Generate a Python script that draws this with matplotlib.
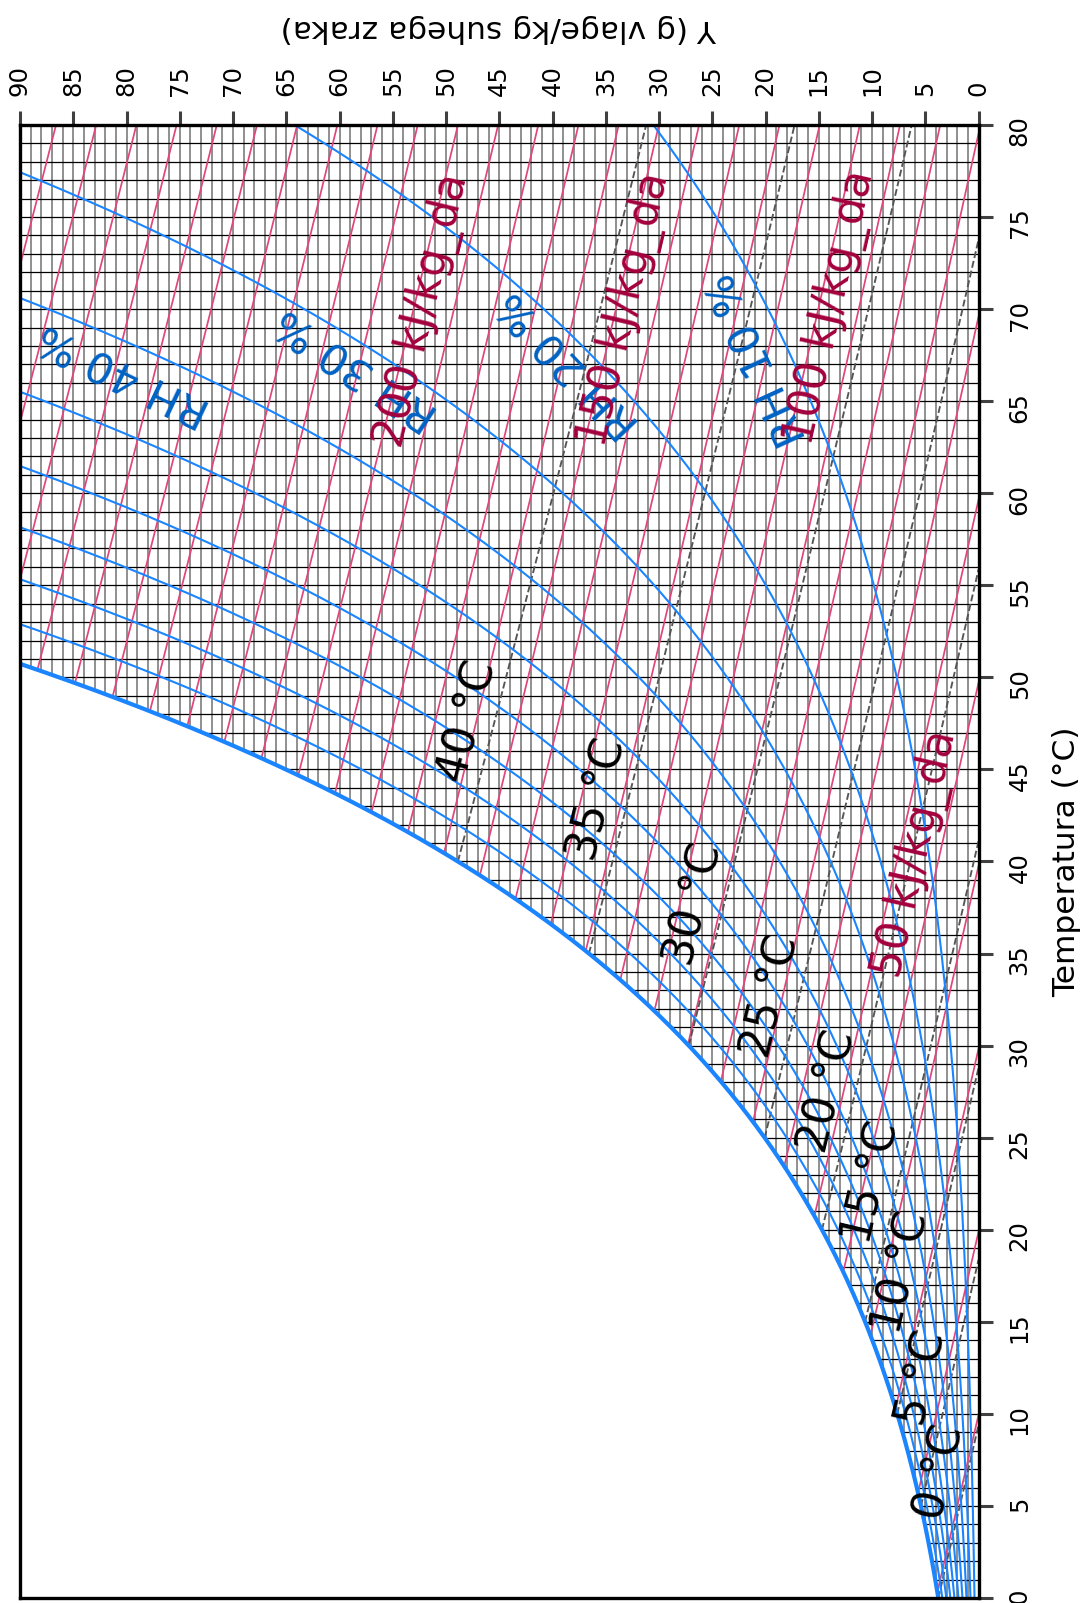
import numpy as np
import matplotlib
matplotlib.use("Agg")
import matplotlib.pyplot as plt
from matplotlib.collections import LineCollection

# ---------------------------------------------------------------- data
P_ATM = 101325.0  # Pa

rh_levels = [10, 20, 30, 40, 50, 60, 70, 80, 90]          # %
enthalpy_levels = list(range(10, 330, 10))                  # kJ/kg_da
wet_bulb_levels = [0, 5, 10, 15, 20, 25, 30, 35, 40]        # °C

temp_grid = list(range(0, 81))        # °C, one line per degree
hum_grid = list(range(0, 91))         # g/kg, one line per gram

temp_ticks = list(range(0, 81, 5))
hum_ticks = list(range(0, 91, 5))

# label anchors (humidity g/kg, temperature °C)
rh_label_levels = [10, 20, 30, 40]
rh_label_w = [20.7, 38.5, 58.4, 80.2]
rh_label_t = [67.3, 67.0, 66.8, 66.5]

h_label_levels = [50, 100, 150, 200]
h_label_w = [5.9, 13.9, 33.2, 52.2]
h_label_t = [40.4, 70.1, 70.0, 69.9]

wb_label_levels = [0, 5, 10, 15, 20, 25, 30, 35, 40]
wb_label_w = [3.6, 5.25, 7.23, 10.04, 14.17, 19.43, 26.65, 35.76, 47.96]
wb_label_t = [6.8, 11.95, 17.65, 22.54, 27.49, 32.65, 37.64, 43.35, 47.58]

# ---------------------------------------------------------------- psychrometrics
def p_sat(t):
    """Saturation pressure over water (Hyland-Wexler), Pa."""
    tk = np.asarray(t, dtype=float) + 273.15
    return np.exp(-5.8002206e3 / tk + 1.3914993 - 4.8640239e-2 * tk
                  + 4.1764768e-5 * tk ** 2 - 1.4452093e-8 * tk ** 3
                  + 6.5459673 * np.log(tk))


def w_from_pw(pw):
    return 621.945 * pw / (P_ATM - pw)  # g/kg


def w_sat(t):
    return w_from_pw(p_sat(t))


# monotonic lookup table (kept well below the boiling point)
_t_tab = np.linspace(-5, 90, 20001)
_w_tab = w_sat(_t_tab)


def t_sat_from_w(w):
    return np.interp(w, _w_tab, _t_tab)


def w_enthalpy(h, t):
    return 1000.0 * (h - 1.006 * t) / (2501.0 + 1.86 * t)


def w_wet_bulb(twb, t):
    ws = w_sat(twb) / 1000.0
    return 1000.0 * ((2501.0 - 2.326 * twb) * ws - 1.006 * (t - twb)) / \
        (2501.0 + 1.86 * t - 4.186 * twb)


def enthalpy_line(h):
    f = w_enthalpy(h, _t_tab) - _w_tab          # decreasing in t
    t0 = np.interp(0.0, -f, _t_tab)
    t1 = h / 1.006
    t = np.linspace(t0, t1, 300)
    return w_enthalpy(h, t), t


def wet_bulb_line(twb):
    ws = w_sat(twb) / 1000.0
    t1 = twb + (2501.0 - 2.326 * twb) * ws / 1.006
    t = np.linspace(twb, t1, 300)
    return np.clip(w_wet_bulb(twb, t), 0, None), t


# ---------------------------------------------------------------- figure
W_PX, H_PX = 1088, 1603
fig = plt.figure(figsize=(W_PX / 100, H_PX / 100), dpi=100)
ax_left, ax_right, ax_top, ax_bottom = 20.0, 978.5, 125.0, 1598.0
ax = fig.add_axes([ax_left / W_PX, (H_PX - ax_bottom) / H_PX,
                   (ax_right - ax_left) / W_PX, (ax_bottom - ax_top) / H_PX])
ax.set_xlim(90, 0)
ax.set_ylim(0, 80)

c_grid_t = "black"
c_grid_w = "#7d7d7d"
c_h = "#e0457b"
c_h_txt = "#a3003d"
c_rh = "#1a85ff"
c_rh_txt = "#0062c4"
c_wb = "#555555"

# grid: dry-bulb lines and humidity lines, limited to the unsaturated region
t_segs = [[(0, t), (min(float(w_sat(t)), 90.0), t)] for t in temp_grid]
w_segs = [[(w, float(t_sat_from_w(w))), (w, 80)] for w in hum_grid]
ax.add_collection(LineCollection(w_segs, colors=c_grid_w, linewidths=1.2, zorder=1))
ax.add_collection(LineCollection(t_segs, colors=c_grid_t, linewidths=0.9, zorder=1))

# constant enthalpy
for h in enthalpy_levels:
    w, t = enthalpy_line(h)
    ax.plot(w, t, color=c_h, lw=1.25, zorder=2)

# constant wet bulb
for twb in wet_bulb_levels:
    w, t = wet_bulb_line(twb)
    ax.plot(w, t, color=c_wb, lw=1.35, ls="--", zorder=3)

# constant relative humidity
t_rh = np.linspace(0, 80, 800)
for rh in rh_levels:
    ax.plot(w_from_pw(rh / 100.0 * p_sat(t_rh)), t_rh, color=c_rh, lw=1.5, zorder=4)

# saturation curve
ax.plot(w_sat(t_rh), t_rh, color=c_rh, lw=3.0, zorder=5)


def screen_angle(w0, t0, w1, t1):
    p0 = ax.transData.transform((w0, t0))
    p1 = ax.transData.transform((w1, t1))
    return np.degrees(np.arctan2(p1[1] - p0[1], p1[0] - p0[0]))


for rh, w, t in zip(rh_label_levels, rh_label_w, rh_label_t):
    dt = 0.5
    wa = float(w_from_pw(rh / 100.0 * p_sat(t - dt)))
    wb = float(w_from_pw(rh / 100.0 * p_sat(t + dt)))
    ang = screen_angle(wa, t - dt, wb, t + dt)
    ax.text(w, t, f"RH {rh} %", color=c_rh_txt, fontsize=31, rotation=ang,
            rotation_mode="anchor", ha="center", va="center", zorder=7)

for h, w, t in zip(h_label_levels, h_label_w, h_label_t):
    ang = screen_angle(w_enthalpy(h, t - 1), t - 1, w_enthalpy(h, t + 1), t + 1)
    ax.text(w, t, f"{h} kJ/kg_da", color=c_h_txt, fontsize=31.5, rotation=ang,
            rotation_mode="anchor", ha="center", va="center", zorder=7)

for twb, w, t in zip(wb_label_levels, wb_label_w, wb_label_t):
    ang = screen_angle(w_wet_bulb(twb, t - 1), t - 1, w_wet_bulb(twb, t + 1), t + 1)
    ax.text(w, t, f"{twb} °C", color="black", fontsize=32, rotation=ang,
            rotation_mode="anchor", ha="center", va="center", zorder=7)

# axes decoration
ax.xaxis.tick_top()
ax.yaxis.tick_right()
ax.set_xticks(hum_ticks)
ax.set_yticks(temp_ticks)
ax.set_xticklabels([str(v) for v in hum_ticks])
ax.set_yticklabels([str(v) for v in temp_ticks])
ax.tick_params(axis="both", direction="out", length=10, width=2.2, color="#404040",
               labelsize=17.5, pad=11, labelrotation=90)
for side in ("left", "right", "top", "bottom"):
    ax.spines[side].set_linewidth(2.4)
    ax.spines[side].set_color("black")
    ax.spines[side].set_zorder(8)

ax.text((1067 - ax_left) / (ax_right - ax_left), 0.5, "Temperatura (°C)",
        transform=ax.transAxes, rotation=90, rotation_mode="anchor",
        ha="center", va="center", fontsize=22.5)
ax.text(0.5, (ax_bottom - 29) / (ax_bottom - ax_top), "Y (g vlage/kg suhega zraka)",
        transform=ax.transAxes, rotation=180, rotation_mode="anchor",
        ha="center", va="center", fontsize=22.5)

fig.savefig("out.png", dpi=100)
